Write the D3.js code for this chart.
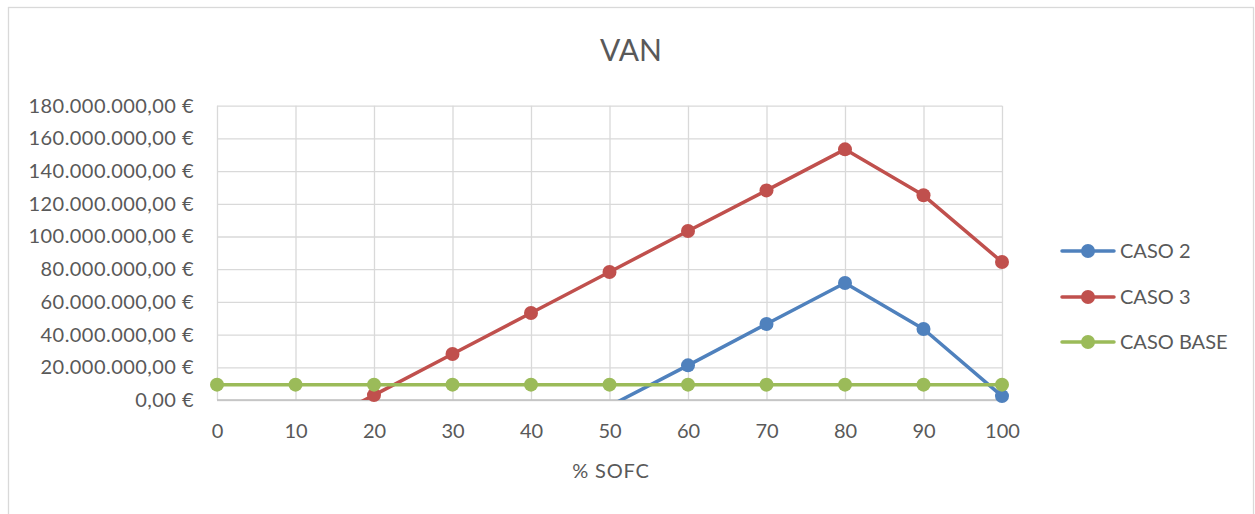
<!DOCTYPE html>
<html>
<head>
<meta charset="utf-8">
<script src="https://cdn.jsdelivr.net/npm/d3@7"></script>
<style>
  html, body { margin: 0; padding: 0; background: #fff; }
  svg { display: block; font-family: Lato, "Open Sans", sans-serif; }
</style>
</head>
<body>
<svg id="chart" width="1255" height="514"></svg>
<script>
// % SOFC categories
const sofc = [0, 10, 20, 30, 40, 50, 60, 70, 80, 90, 100];
// VAN per case, in euros
const caso2 = [-129e6, -104e6, -79e6, -54e6, -29e6, -3.7e6, 21.2e6, 46.5e6, 71.6e6, 43.4e6, 2.4e6];
const caso3 = [-47e6, -22e6, 3e6, 28.1e6, 53.2e6, 78.3e6, 103.4e6, 128.2e6, 153.3e6, 125.2e6, 84.4e6];
const casoBase = [9.4e6, 9.4e6, 9.4e6, 9.4e6, 9.4e6, 9.4e6, 9.4e6, 9.4e6, 9.4e6, 9.4e6, 9.4e6];
const yTicks = [0, 20e6, 40e6, 60e6, 80e6, 100e6, 120e6, 140e6, 160e6, 180e6];

const series = [
  { name: "CASO 2", values: caso2, color: "#4f81bd" },
  { name: "CASO 3", values: caso3, color: "#c0504d" },
  { name: "CASO BASE", values: casoBase, color: "#9bbb59" }
];

const svg = d3.select("#chart");
const plot = { left: 217, right: 1002, top: 105.7, bottom: 400 };
const textColor = "#595959";

// Outer chart border
svg.append("rect")
  .attr("x", 8.5).attr("y", 7.5)
  .attr("width", 1245).attr("height", 520)
  .attr("fill", "#fff").attr("stroke", "#d9d9d9").attr("stroke-width", 1.3);

const x = d3.scalePoint().domain(sofc).range([plot.left, plot.right]);
const y = d3.scaleLinear().domain([0, 180e6]).range([plot.bottom, plot.top]);

// Spanish currency format: 180.000.000,00 €
const fmt = v => {
  const s = d3.format(",.2f")(v);
  return s.replace(/,/g, "#").replace(/\./g, ",").replace(/#/g, ".") + " €";
};

// Horizontal gridlines + y labels
const yAxis = d3.axisLeft(y).tickValues(yTicks).tickFormat(fmt)
  .tickSize(-(plot.right - plot.left)).tickPadding(23);
const gy = svg.append("g").attr("transform", `translate(${plot.left},0)`).call(yAxis);
gy.select(".domain").remove();
gy.selectAll(".tick line").attr("stroke", "#d9d9d9").attr("stroke-width", 1.3);
gy.selectAll(".tick text").attr("fill", textColor).attr("font-size", 20)
  .attr("letter-spacing", 0.45)
  .attr("font-family", "Lato, 'Open Sans', sans-serif");

// Vertical gridlines + x labels
const xAxis = d3.axisBottom(x).tickSize(-(plot.bottom - plot.top)).tickPadding(24);
const gx = svg.append("g").attr("transform", `translate(0,${plot.bottom})`).call(xAxis);
gx.select(".domain").remove();
gx.selectAll(".tick line").attr("stroke", "#d9d9d9").attr("stroke-width", 1.3);
gx.selectAll(".tick text").attr("fill", textColor).attr("font-size", 20)
  .attr("font-family", "Lato, 'Open Sans', sans-serif");

// Category axis line at the base
svg.append("line")
  .attr("x1", plot.left).attr("x2", plot.right)
  .attr("y1", plot.bottom).attr("y2", plot.bottom)
  .attr("stroke", "#bfbfbf").attr("stroke-width", 1.5);

// Lines are clipped to the plot area; markers only drawn when inside the value range
svg.append("clipPath").attr("id", "plotClip")
  .append("rect")
  .attr("x", plot.left - 20).attr("y", plot.top - 20)
  .attr("width", plot.right - plot.left + 40)
  .attr("height", plot.bottom - plot.top + 20);

const gLines = svg.append("g").attr("clip-path", "url(#plotClip)");
const gMarkers = svg.append("g");
const line = d3.line().x((d, i) => x(sofc[i])).y(d => y(d));

series.forEach(s => {
  gLines.append("path").datum(s.values)
    .attr("d", line).attr("fill", "none")
    .attr("stroke", s.color).attr("stroke-width", 3.5)
    .attr("stroke-linejoin", "round");
  const pts = s.values.map((v, i) => ({ cat: sofc[i], v })).filter(d => d.v >= 0);
  gMarkers.append("g").selectAll("circle").data(pts).join("circle")
    .attr("cx", d => x(d.cat)).attr("cy", d => y(d.v))
    .attr("r", 7).attr("fill", s.color);
});

// Title
svg.append("text").attr("x", 631).attr("y", 61)
  .attr("text-anchor", "middle").attr("fill", textColor)
  .attr("font-size", 30).text("VAN");

// Axis title
svg.append("text").attr("x", 611).attr("y", 478)
  .attr("text-anchor", "middle").attr("fill", textColor)
  .attr("font-size", 20).attr("letter-spacing", 0.8).text("% SOFC");

// Legend
const legendY = [251, 297, 342];
series.forEach((s, i) => {
  const g = svg.append("g").attr("transform", `translate(0,${legendY[i]})`);
  g.append("line").attr("x1", 1062).attr("x2", 1114).attr("y1", 0).attr("y2", 0)
    .attr("stroke", s.color).attr("stroke-width", 3.5).attr("stroke-linecap", "round");
  g.append("circle").attr("cx", 1088).attr("cy", 0).attr("r", 7).attr("fill", s.color);
  g.append("text").attr("x", 1120).attr("y", 0).attr("dy", "0.35em")
    .attr("fill", textColor).attr("font-size", 20).text(s.name);
});
</script>
</body>
</html>
